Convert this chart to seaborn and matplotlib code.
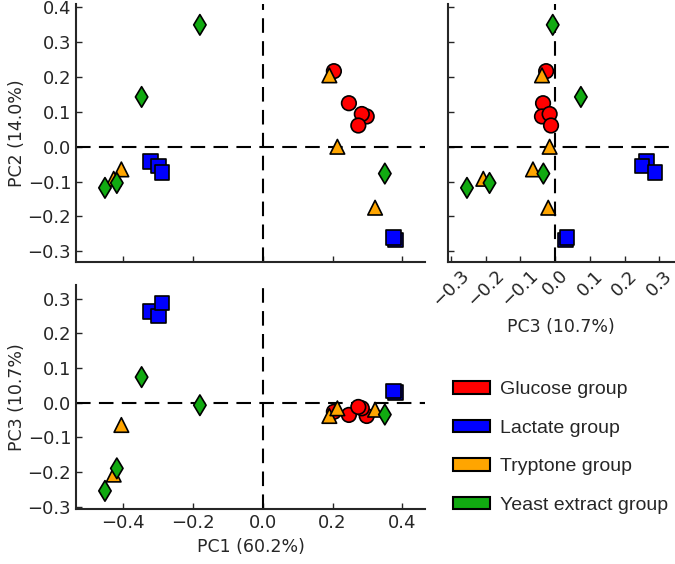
import pandas as pd
import matplotlib
matplotlib.use("Agg")
import matplotlib.pyplot as plt
import seaborn as sns
from matplotlib.patches import Patch

# PCA scores, one list per component
groups = ["Glucose group"] * 5 + ["Lactate group"] * 5 + ["Tryptone group"] * 5 + ["Yeast extract group"] * 5
pc1 = [0.204, 0.247, 0.298, 0.284, 0.274,
       -0.321, -0.299, -0.288, 0.381, 0.374,
       0.191, 0.214, -0.405, 0.322, -0.427,
       -0.180, -0.347, -0.452, -0.418, 0.350]
pc2 = [0.217, 0.125, 0.087, 0.094, 0.061,
       -0.043, -0.055, -0.074, -0.268, -0.260,
       0.205, 0.000, -0.065, -0.175, -0.092,
       0.350, 0.143, -0.118, -0.104, -0.077]
pc3 = [-0.026, -0.035, -0.038, -0.016, -0.012,
       0.263, 0.250, 0.287, 0.030, 0.034,
       -0.038, -0.016, -0.064, -0.020, -0.207,
       -0.007, 0.074, -0.254, -0.189, -0.034]

group_names = ["Glucose group", "Lactate group", "Tryptone group", "Yeast extract group"]
group_colors = ["#ff0000", "#0000ff", "#ffa500", "#11aa11"]
group_markers = ["o", "s", "^", "d"]

df = pd.DataFrame({"group": groups, "PC1": pc1, "PC2": pc2, "PC3": pc3})

sns.set_style("ticks")
plt.rcParams["font.family"] = ["DejaVu Sans"]
plt.rcParams["xtick.direction"] = "in"
plt.rcParams["ytick.direction"] = "in"
plt.rcParams["xtick.major.size"] = 4
plt.rcParams["ytick.major.size"] = 4
plt.rcParams["axes.linewidth"] = 1.5

palette = dict(zip(group_names, group_colors))
markers = dict(zip(group_names, group_markers))

fig = plt.figure(figsize=(6.75, 5.64), dpi=100)
ax_tl = fig.add_axes([0.1126, 0.536, 0.517, 0.457])
ax_tr = fig.add_axes([0.663, 0.536, 0.337, 0.457])
ax_bl = fig.add_axes([0.1126, 0.097, 0.517, 0.398])


def draw(ax, xcol, ycol):
    sns.scatterplot(data=df, x=xcol, y=ycol, hue="group", style="group",
                    palette=palette, markers=markers, s=110,
                    edgecolor="black", linewidth=1.2, legend=False, ax=ax, zorder=3)
    ax.axhline(0, color="black", lw=1.5, ls=(0, (7, 4)), zorder=1)
    ax.axvline(0, color="black", lw=1.5, ls=(0, (7, 4)), zorder=1)
    sns.despine(ax=ax)
    ax.patch.set_visible(False)
    ax.tick_params(labelsize=13, width=1)


draw(ax_tl, "PC1", "PC2")
draw(ax_tr, "PC3", "PC2")
draw(ax_bl, "PC1", "PC3")

pc1_ticks = [-0.4, -0.2, 0.0, 0.2, 0.4]
pc2_ticks = [-0.3, -0.2, -0.1, 0.0, 0.1, 0.2, 0.3, 0.4]
pc3_ticks = [-0.3, -0.2, -0.1, 0.0, 0.1, 0.2, 0.3]

ax_tl.set_xlim(-0.535, 0.465)
ax_tl.set_ylim(-0.33, 0.41)
ax_tl.set_xticks(pc1_ticks)
ax_tl.set_xticklabels([])
ax_tl.set_yticks(pc2_ticks)
ax_tl.set_xlabel("")
ax_tl.set_ylabel("PC2 (14.0%)", fontsize=12.5, labelpad=1)

ax_tr.set_xlim(-0.31, 0.345)
ax_tr.set_ylim(-0.33, 0.41)
ax_tr.set_xticks(pc3_ticks)
ax_tr.set_yticks(pc2_ticks)
ax_tr.set_yticklabels([])
ax_tr.set_ylabel("")
ax_tr.set_xlabel("PC3 (10.7%)", fontsize=12.5, labelpad=6)
plt.setp(ax_tr.get_xticklabels(), rotation=45)

ax_bl.set_xlim(-0.535, 0.465)
ax_bl.set_ylim(-0.307, 0.34)
ax_bl.set_xticks(pc1_ticks)
ax_bl.set_yticks(pc3_ticks)
ax_bl.set_xlabel("PC1 (60.2%)", fontsize=12.5)
ax_bl.set_ylabel("PC3 (10.7%)", fontsize=12.5, labelpad=1)

handles = [Patch(facecolor=c, edgecolor="black", linewidth=1.5, label=n)
           for n, c in zip(group_names, group_colors)]
fig.legend(handles=handles, loc="upper left", bbox_to_anchor=(0.66, 0.338),
           frameon=False, prop={"family": "Liberation Sans", "size": 14},
           handlelength=1.9, handleheight=0.62, handletextpad=0.5,
           labelspacing=1.1, borderaxespad=0)

fig.savefig("out.png", dpi=100)
